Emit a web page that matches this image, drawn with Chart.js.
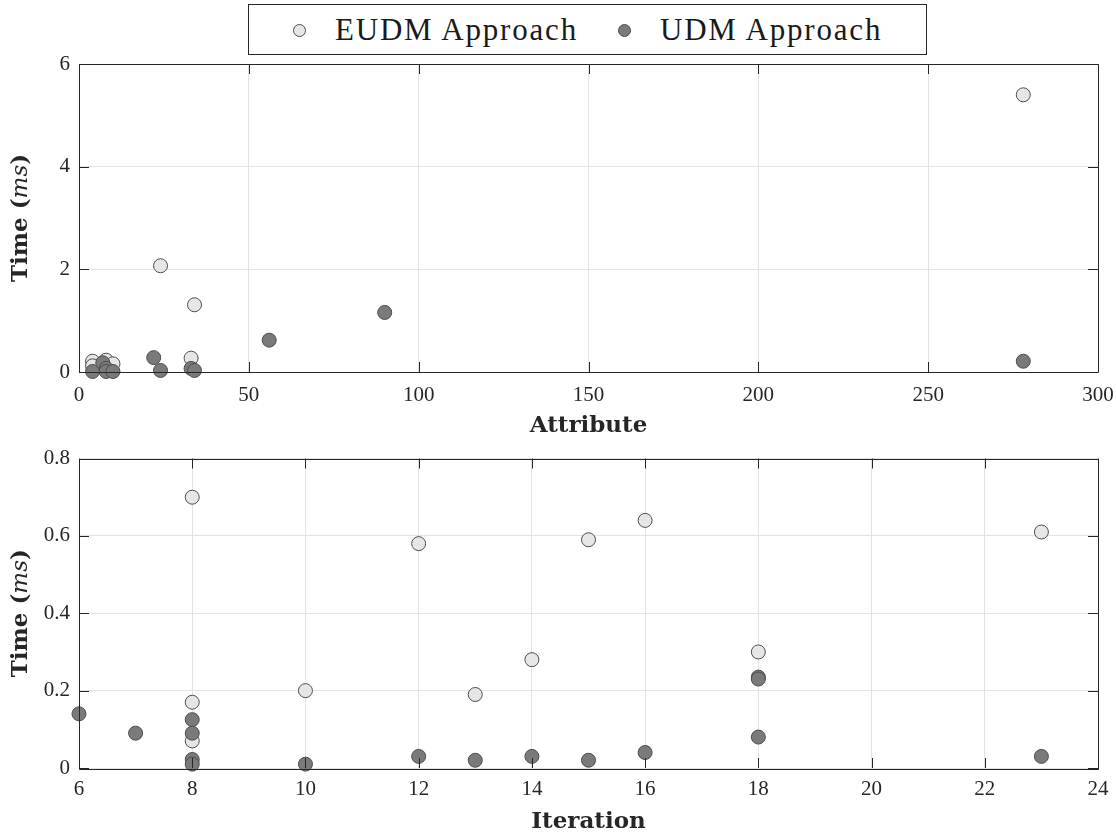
<!DOCTYPE html>
<html>
<head>
<meta charset="utf-8">
<script src="https://cdn.jsdelivr.net/npm/chart.js@4/dist/chart.umd.min.js"></script>
<style>
  html, body { margin: 0; padding: 0; background: #fff; }
  #page { position: relative; width: 1116px; height: 835px; overflow: hidden; background: #fff; }
  .panel { position: absolute; left: 0; width: 1116px; }
  #legend { position: absolute; left: 248px; top: 4px; width: 679px; height: 51px; box-sizing: border-box;
            border: 1px solid #262626; background: #fff; font-family: "Liberation Serif", serif; font-size: 31px; color: #1a1a1a; }
  .mk { position: absolute; width: 13px; height: 13px; border-radius: 50%; box-sizing: border-box; border: 1px solid #4d4d4d; top: 19px; }
  .lbl { position: absolute; top: 6px; line-height: 38px; letter-spacing: 1.8px; white-space: nowrap; }
</style>
</head>
<body>
<div id="page">
  <div class="panel" style="top:0;height:440px;"><canvas id="attrChart" width="1116" height="440"></canvas></div>
  <div class="panel" style="top:440px;height:395px;"><canvas id="iterChart" width="1116" height="395"></canvas></div>
  <div id="legend">
    <div class="mk" style="left:44px;background:#e6e6e6;"></div>
    <div class="lbl" style="left:86px;">EUDM Approach</div>
    <div class="mk" style="left:369px;background:#7a7a7a;"></div>
    <div class="lbl" style="left:411px;">UDM Approach</div>
  </div>
</div>
<script>
// Execution time against number of attributes
const attributeEUDM = [278, 24, 34, 33, 4, 4, 8, 10];
const timeByAttributeEUDM = [5.40, 2.07, 1.31, 0.27, 0.21, 0.12, 0.23, 0.16];
const attributeUDM = [278, 90, 56, 22, 24, 33, 34, 4, 7, 8, 8, 10];
const timeByAttributeUDM = [0.21, 1.16, 0.62, 0.28, 0.03, 0.07, 0.03, 0.01, 0.18, 0.07, 0.01, 0.01];
const attributeTicks = [0, 50, 100, 150, 200, 250, 300];
const timeTicksTop = [0, 2, 4, 6];

// Execution time against number of iterations
const iterationEUDM = [8, 8, 8, 10, 12, 13, 14, 15, 16, 18, 23];
const timeByIterationEUDM = [0.70, 0.17, 0.07, 0.20, 0.58, 0.19, 0.28, 0.59, 0.64, 0.30, 0.61];
const iterationUDM = [6, 7, 8, 8, 8, 8, 10, 12, 13, 14, 15, 16, 18, 18, 18, 23];
const timeByIterationUDM = [0.14, 0.09, 0.125, 0.09, 0.022, 0.01, 0.01, 0.03, 0.02, 0.03, 0.02, 0.04, 0.235, 0.23, 0.08, 0.03];
const iterationTicks = [6, 8, 10, 12, 14, 16, 18, 20, 22, 24];
const timeTicksBottom = [0, 0.2, 0.4, 0.6, 0.8];

const seriesNames = ['EUDM Approach', 'UDM Approach'];
const LIGHT = '#e6e6e6', DARK = '#7a7a7a', EDGE = '#4d4d4d', AXIS = '#262626', GRID = '#e3e3e3';
const TICK_FONT = { family: '"Liberation Serif"', size: 21 };

function pairs(xs, ys) { return xs.map((x, i) => ({ x: x, y: ys[i] })); }

// Box around the plot, inward tick marks and the axis titles
const frame = {
  id: 'frame',
  afterDraw(chart, args, opts) {
    const { ctx, chartArea: a, scales } = chart;
    ctx.save();
    ctx.strokeStyle = AXIS;
    ctx.lineWidth = 1;
    ctx.beginPath();
    ctx.rect(Math.round(a.left) + 0.5, Math.round(a.top) + 0.5, Math.round(a.right - a.left), Math.round(a.bottom - a.top));
    ctx.stroke();
    const L = 10;
    ctx.beginPath();
    scales.x.ticks.forEach(t => {
      const px = Math.round(scales.x.getPixelForValue(t.value)) + 0.5;
      ctx.moveTo(px, a.bottom); ctx.lineTo(px, a.bottom - L);
      ctx.moveTo(px, a.top); ctx.lineTo(px, a.top + L);
    });
    scales.y.ticks.forEach(t => {
      const py = Math.round(scales.y.getPixelForValue(t.value)) + 0.5;
      ctx.moveTo(a.left, py); ctx.lineTo(a.left + L, py);
      ctx.moveTo(a.right, py); ctx.lineTo(a.right - L, py);
    });
    ctx.stroke();

    ctx.fillStyle = AXIS;
    ctx.textAlign = 'center';
    ctx.textBaseline = 'middle';
    ctx.font = 'bold 23px "DejaVu Serif"';
    ctx.fillText(opts.xTitle, (a.left + a.right) / 2, a.bottom + opts.xTitleGap);

    // y title: bold "Time (", italic "ms", bold ")"
    const parts = [
      { t: 'Time (', f: 'bold 23px "DejaVu Serif"' },
      { t: 'ms', f: 'italic 23px "DejaVu Serif"' },
      { t: ')', f: 'bold 23px "DejaVu Serif"' }
    ];
    let total = 0;
    parts.forEach(p => { ctx.font = p.f; p.w = ctx.measureText(p.t).width; total += p.w; });
    ctx.translate(21, (a.top + a.bottom) / 2);
    ctx.rotate(-Math.PI / 2);
    ctx.textAlign = 'left';
    let x = -total / 2;
    parts.forEach(p => { ctx.font = p.f; ctx.fillText(p.t, x, 0); x += p.w; });
    ctx.restore();
  }
};

function makeChart(id, d, cfg) {
  return new Chart(document.getElementById(id), {
    type: 'scatter',
    data: {
      datasets: [
        { label: seriesNames[1], data: pairs(d.ux, d.uy), backgroundColor: DARK, borderColor: EDGE, order: 0 },
        { label: seriesNames[0], data: pairs(d.ex, d.ey), backgroundColor: LIGHT, borderColor: EDGE, order: 1 }
      ]
    },
    options: {
      responsive: false,
      animation: false,
      devicePixelRatio: 1,
      layout: { padding: { top: cfg.padTop, right: 18, left: 0, bottom: 0 } },
      elements: { point: { radius: 7, borderWidth: 1, hoverRadius: 7 } },
      datasets: { scatter: { clip: false } },
      plugins: {
        legend: { display: false },
        tooltip: { enabled: false },
        frame: { xTitle: cfg.xTitle, xTitleGap: cfg.xTitleGap }
      },
      scales: {
        x: {
          type: 'linear', min: cfg.xTicks[0], max: cfg.xTicks[cfg.xTicks.length - 1],
          afterBuildTicks: s => { s.ticks = cfg.xTicks.map(v => ({ value: v })); },
          afterFit: s => { s.height = cfg.xHeight; s.paddingLeft = 0; s.paddingRight = 0; },
          ticks: { font: TICK_FONT, color: AXIS, padding: cfg.xPad, maxRotation: 0, autoSkip: false, callback: v => String(v) },
          grid: { color: GRID, drawTicks: false },
          border: { display: false }
        },
        y: {
          type: 'linear', min: cfg.yTicks[0], max: cfg.yTicks[cfg.yTicks.length - 1],
          afterBuildTicks: s => { s.ticks = cfg.yTicks.map(v => ({ value: v })); },
          afterFit: s => { s.width = 79; s.paddingTop = 0; s.paddingBottom = 0; },
          ticks: { font: TICK_FONT, color: AXIS, padding: 9, autoSkip: false, callback: v => String(+v.toFixed(2)) },
          grid: { color: GRID, drawTicks: false },
          border: { display: false }
        }
      }
    },
    plugins: [frame]
  });
}

makeChart('attrChart',
  { ex: attributeEUDM, ey: timeByAttributeEUDM, ux: attributeUDM, uy: timeByAttributeUDM },
  { xTicks: attributeTicks, yTicks: timeTicksTop, padTop: 64, xHeight: 68, xPad: 11, xTitle: 'Attribute', xTitleGap: 54 });

makeChart('iterChart',
  { ex: iterationEUDM, ey: timeByIterationEUDM, ux: iterationUDM, uy: timeByIterationUDM },
  { xTicks: iterationTicks, yTicks: timeTicksBottom, padTop: 18.5, xHeight: 67, xPad: 9, xTitle: 'Iteration', xTitleGap: 54 });
</script>
</body>
</html>
